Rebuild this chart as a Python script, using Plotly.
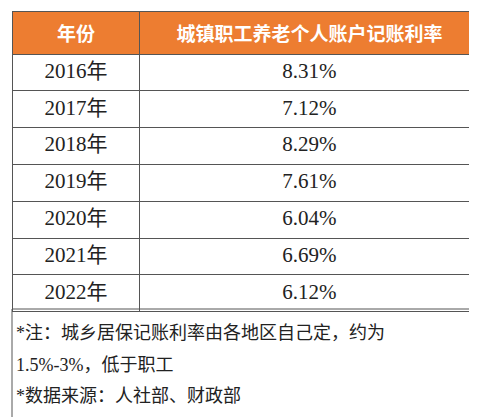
import plotly.graph_objects as go

header = ["年份", "城镇职工养老个人账户记账利率"]
years = ["2016年", "2017年", "2018年", "2019年", "2020年", "2021年", "2022年"]
rates = ["8.31%", "7.12%", "8.29%", "7.61%", "6.04%", "6.69%", "6.12%"]
notes = ["*注：城乡居保记账利率由各地区自己定，约为", "1.5%-3%，低于职工", "*数据来源：人社部、财政部"]

W, H = 477, 417
fig = go.Figure(go.Table(
    columnwidth=[130, 345],
    header=dict(values=[f"<b>{h}</b>" for h in header], fill_color="#ED7D31",
                line=dict(color="#555555", width=1), align="center", height=38,
                font=dict(family="Noto Sans CJK SC", size=19, color="white")),
    cells=dict(values=[years, rates], fill_color="white",
               line=dict(color="#555555", width=1), align="center", height=36.8,
               font=dict(family="Liberation Serif, Noto Sans CJK SC", size=21, color="#222222")),
    domain=dict(x=[0, 1], y=[0, 1]),
))
fig.update_layout(width=W, height=H, margin=dict(l=4, r=6, t=3, b=0),
                  paper_bgcolor="white", plot_bgcolor="white")
y0 = 1 - 298 / 414
fig.add_shape(type="rect", xref="paper", yref="paper", x0=0, x1=1, y0=0.005, y1=y0,
              line=dict(color="#555555", width=1), fillcolor="rgba(0,0,0,0)")
ys = [322, 354, 385]
for t, yy in zip(notes, ys):
    fig.add_annotation(text=t, xref="paper", yref="paper", x=0.005, y=1 - yy / 414,
                       xanchor="left", yanchor="middle", showarrow=False,
                       font=dict(family="Liberation Serif, Noto Sans CJK SC", size=18, color="#222222"))
fig.write_html("out.html")
